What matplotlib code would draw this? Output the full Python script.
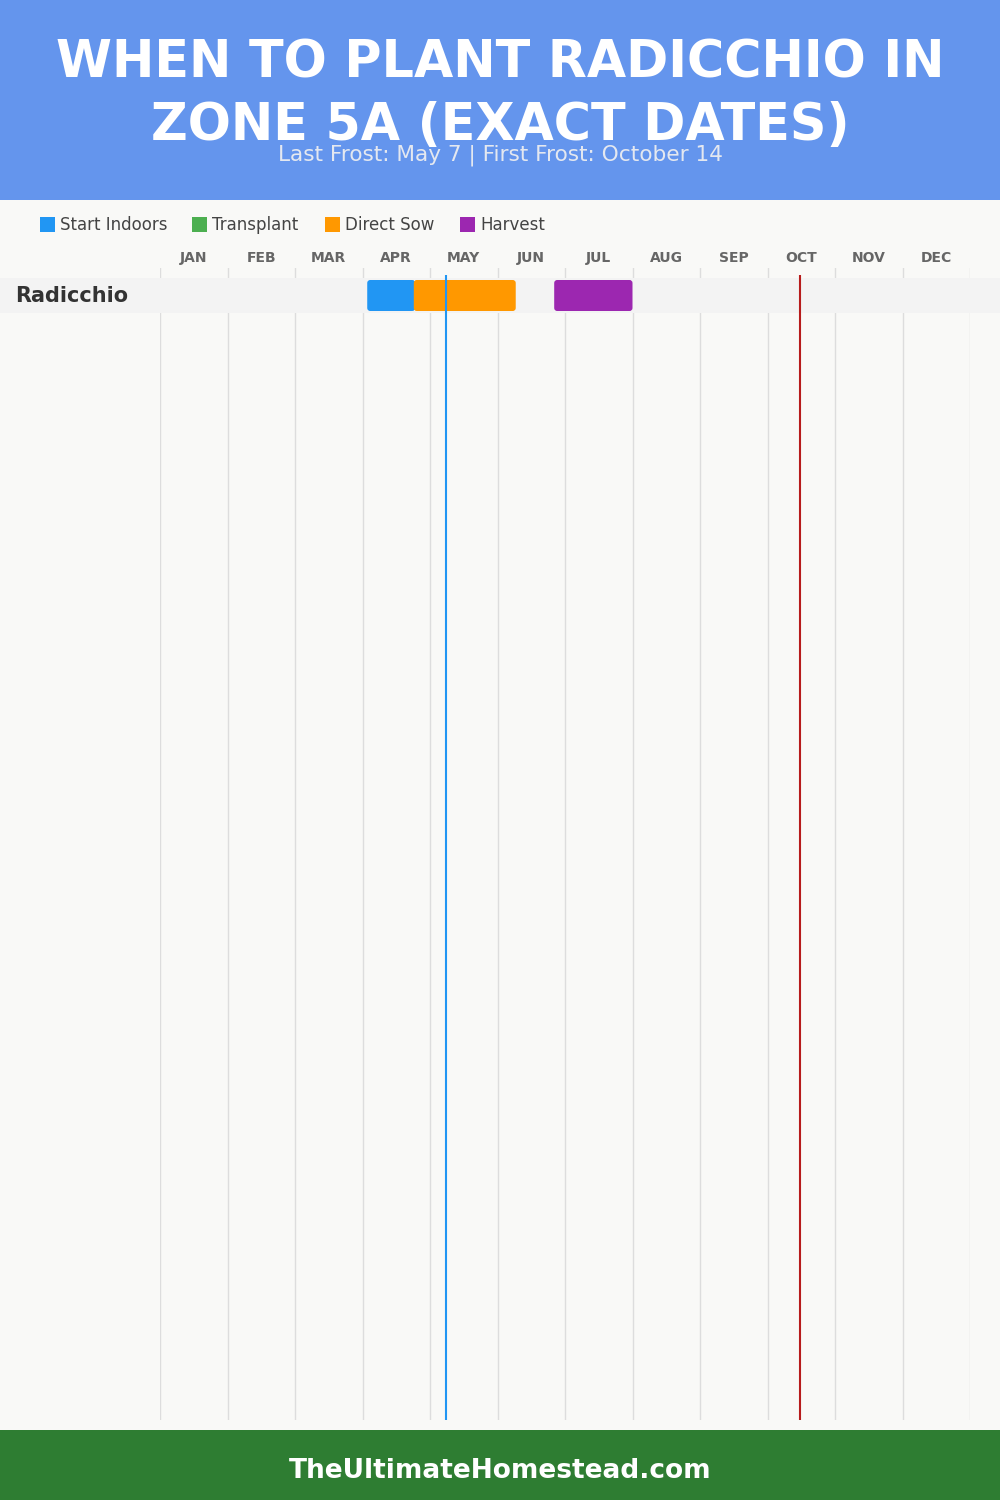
import matplotlib
matplotlib.use("Agg")
import matplotlib.pyplot as plt
from matplotlib.patches import Rectangle, FancyBboxPatch

# ---------------- data ----------------
months = ["JAN", "FEB", "MAR", "APR", "MAY", "JUN", "JUL", "AUG", "SEP", "OCT", "NOV", "DEC"]
crops = ["Radicchio"]
legend_labels = ["Start Indoors", "Transplant", "Direct Sow", "Harvest"]
# periods in fractional months from Jan 1 (0 = Jan 1, 12 = Dec 31)
start_indoors = [(3.07, 3.78)]
transplant = [None]
direct_sow = [(3.76, 5.27)]
harvest = [(5.84, 7.00)]
last_frost = 4.233   # May 7
first_frost = 9.477  # October 14
title_lines = ["WHEN TO PLANT RADICCHIO IN", "ZONE 5A (EXACT DATES)"]
subtitle = "Last Frost: May 7 | First Frost: October 14"
footer = "TheUltimateHomestead.com"

# ---------------- style ----------------
W, H = 1000, 1500
BG = "#f9f9f7"
HEADER = "#6495ed"
FOOTER = "#2e7d32"
colors = {"Start Indoors": "#2196f3", "Transplant": "#4caf50",
          "Direct Sow": "#ff9800", "Harvest": "#9c27b0"}

fig = plt.figure(figsize=(W / 100, H / 100), dpi=100, facecolor=BG)

def fx(px):
    return px / W

def fy(py):
    return 1 - py / H

# header / footer bands
fig.patches.append(Rectangle((0, fy(200)), 1, 200 / H, transform=fig.transFigure,
                             facecolor=HEADER, edgecolor="none", zorder=-2))
fig.patches.append(Rectangle((0, 0), 1, 70 / H, transform=fig.transFigure,
                             facecolor=FOOTER, edgecolor="none", zorder=-2))

title_font = dict(family="DejaVu Sans", fontweight="heavy", color="white")
fig.text(0.5, fy(63), title_lines[0], ha="center", va="center", fontsize=36.5, **title_font)
fig.text(0.5, fy(126), title_lines[1], ha="center", va="center", fontsize=36.5, **title_font)
fig.text(0.5, fy(155), subtitle, ha="center", va="center", fontsize=15.6,
         color="#e4e8f0", family="DejaVu Sans", zorder=5)
fig.text(0.5, fy(1471), footer, ha="center", va="center", fontsize=19,
         color="white", fontweight="bold", family="DejaVu Sans")

# legend
leg_x = [40, 192, 325, 460]
for lx, lab in zip(leg_x, legend_labels):
    fig.patches.append(Rectangle((fx(lx), fy(232)), 15 / W, 15 / H, transform=fig.transFigure,
                                 facecolor=colors[lab], edgecolor="none"))
    fig.text(fx(lx + 20), fy(225), lab, ha="left", va="center", fontsize=12,
             color="#444444", family="DejaVu Sans")

# ---------------- chart axes ----------------
ax_l, ax_r, ax_t, ax_b = 160, 970, 268, 1420
row_px = 35.0
ax = fig.add_axes([fx(ax_l), fy(ax_b), (ax_r - ax_l) / W, (ax_b - ax_t) / H])
ax.set_zorder(1)
ax.set_facecolor("none")
y_top = -0.5 - (278 - ax_t) / row_px
y_bot = y_top + (ax_b - ax_t) / row_px
ax.set_xlim(0, 12)
ax.set_ylim(y_bot, y_top)
for s in ax.spines.values():
    s.set_visible(False)
ax.set_yticks([])
ax.xaxis.tick_top()
ax.set_xticks([i + 0.5 for i in range(12)])
ax.set_xticklabels(months, fontsize=10, fontweight="bold", color="#666666",
                   family="DejaVu Sans")
ax.tick_params(axis="x", length=0, pad=2)

# month grid lines
for i in range(13):
    ax.axvline(i, color="#dddddd", lw=1, zorder=1)

# row bands (span full figure width)
for r, crop in enumerate(crops):
    band = Rectangle((0, fy(278 + r * row_px + row_px)), 1, row_px / H,
                     transform=fig.transFigure, facecolor="#f3f3f3",
                     edgecolor="none", zorder=-1)
    fig.patches.append(band)
    fig.text(fx(15), fy(296 + r * row_px), crop, ha="left", va="center",
             fontsize=15, fontweight="bold", color="#333333", family="DejaVu Sans")
    ax.axhspan(r - 0.5, r + 0.5, color="#f3f3f3", zorder=2, lw=0)

# bars
bar_h = 31 / row_px
x_per_px = 12 / (ax_r - ax_l)
y_per_px = 1 / row_px
rad = 3 * x_per_px
series = [("Start Indoors", start_indoors), ("Transplant", transplant),
          ("Direct Sow", direct_sow), ("Harvest", harvest)]
for lab, data in series:
    for r, period in enumerate(data):
        if period is None:
            continue
        s, e = period
        p = FancyBboxPatch((s, r - bar_h / 2), e - s, bar_h,
                           boxstyle=f"round,pad=0,rounding_size={rad}",
                           mutation_aspect=y_per_px / x_per_px,
                           facecolor=colors[lab], edgecolor="none", zorder=3)
        ax.add_patch(p)

# frost lines
line_top = y_top + (275 - ax_t) / row_px
ax.plot([last_frost, last_frost], [line_top, y_bot], color="#2196f3", lw=1.5, zorder=4,
        solid_capstyle="butt")
ax.plot([first_frost, first_frost], [line_top, y_bot], color="#b71c1c", lw=1.5, zorder=4,
        solid_capstyle="butt")

fig.savefig("out.png", dpi=100, facecolor=BG)
